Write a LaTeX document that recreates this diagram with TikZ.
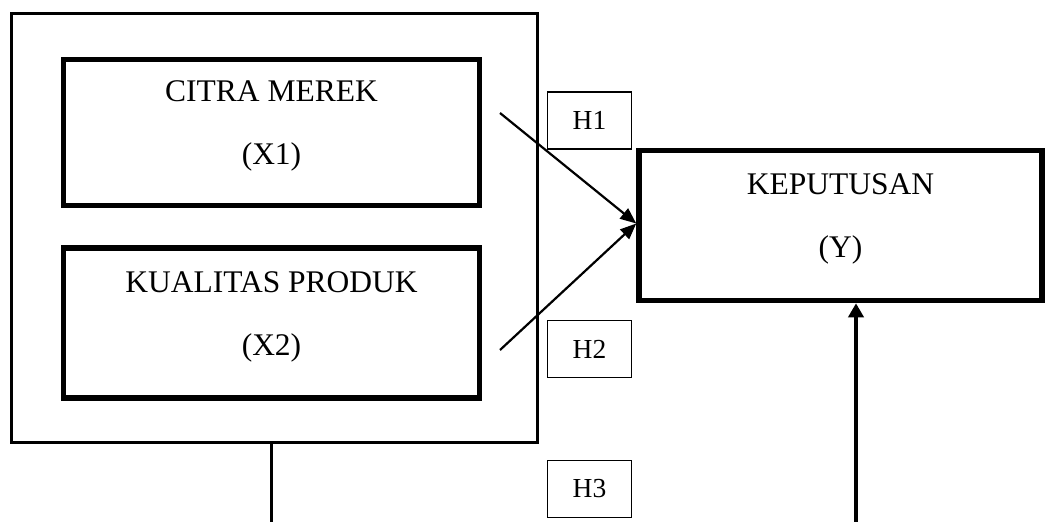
\documentclass[tikz,border=0pt]{standalone}
\usepackage{fontspec}
\setmainfont{Liberation Serif}
\usetikzlibrary{arrows.meta}
\tikzset{
  outerbox/.style={draw, line width=3pt, inner sep=0pt},
  varbox/.style={draw, line width=5.5pt, inner sep=0pt, align=center, text depth=19pt, font=\fontsize{31.5}{63}\selectfont},
  hbox/.style={draw, line width=1.6pt, inner sep=0pt, minimum width=84pt, minimum height=57pt, font=\fontsize{27.5}{32}\selectfont},
  conn/.style={line width=2.2pt, -{Triangle[length=16pt,width=13pt]}},
  plainline/.style={line width=3pt},
  bigconn/.style={line width=4pt, -{Triangle[length=14pt,width=15pt]}}
}
\begin{document}
\begin{tikzpicture}[x=1pt,y=-1pt]
\useasboundingbox[fill=white] (0,0) rectangle (1047,522);
\node[outerbox, minimum width=526pt, minimum height=429pt] (outer) at (274,227.5) {};
\node[varbox, minimum width=416pt, minimum height=146pt] (x1) at (271.5,132.5) {CITRA MEREK\\(X1)};
\node[varbox, minimum width=416pt, minimum height=150pt] (x2) at (271.5,323) {KUALITAS PRODUK\\(X2)};
\node[varbox, minimum width=403pt, minimum height=150pt] (kep) at (840.5,225.5) {KEPUTUSAN\\(Y)};
\node[hbox] (h1) at (589.5,120.5) {H1};
\node[hbox] (h2) at (589.5,349) {H2};
\node[hbox] (h3) at (589.5,489) {H3};
\coordinate (a1) at (500,113);
\coordinate (a2) at (500,350);
\coordinate (b1) at (271,522);
\coordinate (b2) at (856,522);
\draw[conn] (a1) -- ([yshift=2pt]kep.west);
\draw[conn] (a2) -- ([yshift=2pt]kep.west);
\draw[plainline] (outer.south -| b1) -- (b1);
\draw[bigconn] (b2) -- (b2 |- kep.south);
\end{tikzpicture}
\end{document}
